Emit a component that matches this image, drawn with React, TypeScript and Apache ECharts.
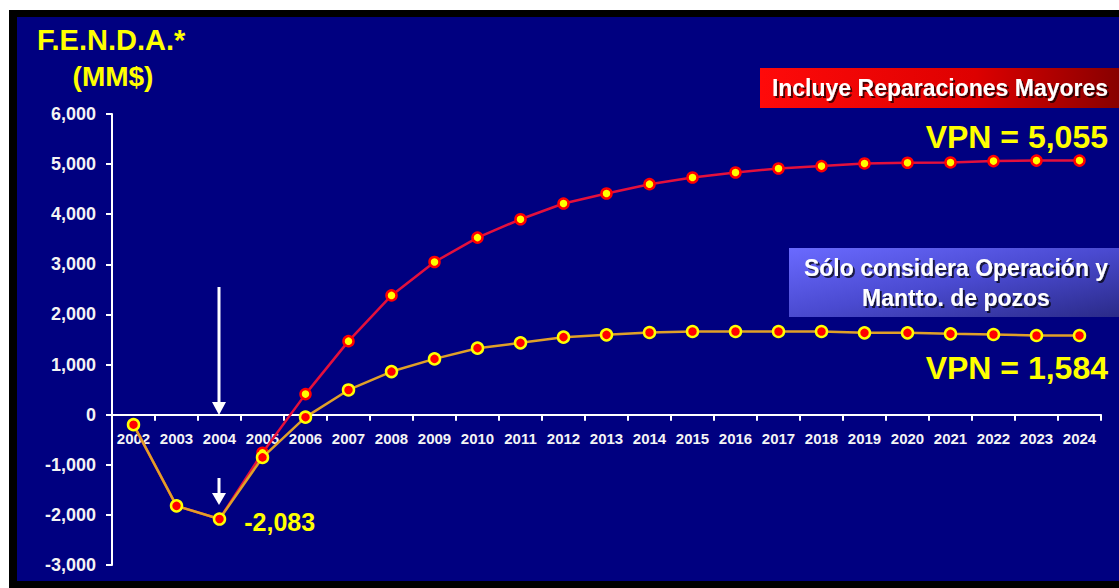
import React, { useEffect, useRef } from "react";
import * as echarts from "echarts";

const years = [
  "2002", "2003", "2004", "2005", "2006", "2007", "2008", "2009", "2010", "2011", "2012",
  "2013", "2014", "2015", "2016", "2017", "2018", "2019", "2020", "2021", "2022", "2023", "2024",
];
const incluyeReparaciones = [
  -200, -1820, -2083, -760, 410, 1467, 2380, 3047, 3533, 3900, 4213,
  4413, 4600, 4733, 4832, 4913, 4960, 5013, 5027, 5033, 5060, 5070, 5070,
];
const soloOperacion = [
  -200, -1820, -2083, -853, -50, 493, 860, 1113, 1327, 1433, 1547,
  1593, 1640, 1660, 1660, 1660, 1660, 1633, 1633, 1613, 1600, 1580, 1580,
];
const yMin = -3000;
const yMax = 6000;
const yStep = 1000;
const minIndex = 2; // 2004, -2,083

const FONT = "'Liberation Sans', Arial, sans-serif";
const GRID_TOP = 114;
const GRID_BOTTOM = 23;
const CHART_H = 588;

export default function App() {
  const ref = useRef<HTMLDivElement>(null);
  useEffect(() => {
    if (!ref.current) return;
    const chart = echarts.init(ref.current, null, { renderer: "svg" });
    const plotH = CHART_H - GRID_TOP - GRID_BOTTOM;
    // distance from the bottom of the grid up to the value 0
    const zeroOffset = (plotH * (0 - yMin)) / (yMax - yMin);
    const soloData = soloOperacion.map((v, i) =>
      i === minIndex
        ? {
            value: v,
            label: {
              show: true,
              position: "right",
              distance: 18,
              offset: [0, 3],
              formatter: (p: any) => Number(p.value).toLocaleString("en-US"),
              color: "#ffff00",
              fontFamily: FONT,
              fontWeight: "bold",
              fontSize: 25,
            },
          }
        : v
    );
    chart.setOption({
      animation: false,
      backgroundColor: "transparent",
      grid: {
        left: 112,
        right: 18,
        top: GRID_TOP,
        bottom: GRID_BOTTOM,
        containLabel: false,
        outerBoundsMode: "none",
      },
      xAxis: {
        type: "category",
        data: years,
        boundaryGap: true,
        position: "bottom",
        offset: -zeroOffset,
        axisLine: { onZero: false, lineStyle: { color: "#ffffff", width: 2 } },
        axisTick: { show: true, length: 6, lineStyle: { color: "#ffffff", width: 2 } },
        axisLabel: {
          interval: 0,
          margin: 16,
          color: "#f4f4f4",
          fontFamily: FONT,
          fontWeight: "bold",
          fontSize: 15,
          hideOverlap: false,
        },
        splitLine: { show: false },
      },
      yAxis: {
        type: "value",
        min: yMin,
        max: yMax,
        interval: yStep,
        axisLine: { show: true, onZero: false, lineStyle: { color: "#ffffff", width: 2 } },
        axisTick: { show: true, length: 6, lineStyle: { color: "#ffffff", width: 2 } },
        axisLabel: {
          margin: 16,
          color: "#f4f4f4",
          fontFamily: FONT,
          fontWeight: "bold",
          fontSize: 18,
          formatter: (v: number) => v.toLocaleString("en-US"),
        },
        splitLine: { show: false },
      },
      series: [
        {
          name: "Incluye Reparaciones Mayores",
          type: "line",
          data: incluyeReparaciones,
          symbol: "circle",
          symbolSize: 10,
          lineStyle: { color: "#e4103c", width: 2.5 },
          itemStyle: { color: "#ffff00", borderColor: "#ff0000", borderWidth: 2.5 },
          z: 2,
        },
        {
          name: "Sólo considera Operación y Mantto. de pozos",
          type: "line",
          data: soloData,
          symbol: "circle",
          symbolSize: 11,
          lineStyle: { color: "#e0a028", width: 2.5 },
          itemStyle: { color: "#ff0000", borderColor: "#ffff00", borderWidth: 2.5 },
          z: 3,
        },
      ],
      graphic: [
        {
          type: "text",
          x: 37,
          y: 40,
          style: {
            text: "F.E.N.D.A.*",
            fill: "#ffff00",
            font: `bold 29px ${FONT}`,
            textVerticalAlign: "middle",
            textShadowColor: "rgba(0,0,0,0.5)",
            textShadowOffsetX: 1,
            textShadowOffsetY: 1,
          },
        },
        {
          type: "text",
          x: 113,
          y: 76,
          style: {
            text: "(MM$)",
            fill: "#ffff00",
            font: `bold 28px ${FONT}`,
            textAlign: "center",
            textVerticalAlign: "middle",
            textShadowColor: "rgba(0,0,0,0.5)",
            textShadowOffsetX: 1,
            textShadowOffsetY: 1,
          },
        },
        {
          type: "rect",
          shape: { x: 760, y: 68, width: 359, height: 40 },
          style: {
            fill: new echarts.graphic.LinearGradient(0, 0, 1, 0, [
              { offset: 0, color: "#ff0a0a" },
              { offset: 0.6, color: "#dd0000" },
              { offset: 1, color: "#880000" },
            ]),
          },
        },
        {
          type: "text",
          x: 940,
          y: 88,
          style: {
            text: "Incluye Reparaciones Mayores",
            fill: "#ffffff",
            font: `bold 23px ${FONT}`,
            textAlign: "center",
            textVerticalAlign: "middle",
            textShadowColor: "rgba(0,0,0,0.7)",
            textShadowOffsetX: 2,
            textShadowOffsetY: 2,
            textShadowBlur: 1,
          },
        },
        {
          type: "text",
          x: 1108,
          y: 137,
          style: {
            text: "VPN = 5,055",
            fill: "#ffff00",
            font: `bold 32px ${FONT}`,
            textAlign: "right",
            textVerticalAlign: "middle",
            textShadowColor: "rgba(0,0,0,0.5)",
            textShadowOffsetX: 1,
            textShadowOffsetY: 1,
          },
        },
        {
          type: "rect",
          shape: { x: 789, y: 248, width: 330, height: 69 },
          style: {
            fill: new echarts.graphic.LinearGradient(0, 0, 1, 1, [
              { offset: 0, color: "#6a6aff" },
              { offset: 0.5, color: "#4a4ad0" },
              { offset: 1, color: "#2a2a88" },
            ]),
          },
        },
        {
          type: "text",
          x: 956,
          y: 268,
          style: {
            text: "Sólo considera Operación y",
            fill: "#ffffff",
            font: `bold 23px ${FONT}`,
            textAlign: "center",
            textVerticalAlign: "middle",
            textShadowColor: "rgba(0,0,0,0.7)",
            textShadowOffsetX: 2,
            textShadowOffsetY: 2,
            textShadowBlur: 1,
          },
        },
        {
          type: "text",
          x: 956,
          y: 298,
          style: {
            text: "Mantto. de pozos",
            fill: "#ffffff",
            font: `bold 23px ${FONT}`,
            textAlign: "center",
            textVerticalAlign: "middle",
            textShadowColor: "rgba(0,0,0,0.7)",
            textShadowOffsetX: 2,
            textShadowOffsetY: 2,
            textShadowBlur: 1,
          },
        },
        {
          type: "text",
          x: 1108,
          y: 368,
          style: {
            text: "VPN = 1,584",
            fill: "#ffff00",
            font: `bold 32px ${FONT}`,
            textAlign: "right",
            textVerticalAlign: "middle",
            textShadowColor: "rgba(0,0,0,0.5)",
            textShadowOffsetX: 1,
            textShadowOffsetY: 1,
          },
        },
        {
          type: "line",
          shape: { x1: 219, y1: 287, x2: 219, y2: 404 },
          style: { stroke: "#ffffff", lineWidth: 3 },
        },
        {
          type: "polygon",
          shape: { points: [[212, 402], [226, 402], [219, 415]] },
          style: { fill: "#ffffff" },
        },
        {
          type: "line",
          shape: { x1: 219, y1: 478, x2: 219, y2: 495 },
          style: { stroke: "#ffffff", lineWidth: 3 },
        },
        {
          type: "polygon",
          shape: { points: [[212, 493], [226, 493], [219, 505]] },
          style: { fill: "#ffffff" },
        },
      ],
    });
    return () => chart.dispose();
  }, []);

  return (
    <div
      style={{
        position: "absolute",
        left: 0,
        top: 0,
        width: 1119,
        height: 588,
        background: "#ffffff",
        overflow: "hidden",
      }}
    >
      <div style={{ position: "absolute", left: 9, top: 10, right: 0, bottom: 0, background: "#000000" }} />
      <div style={{ position: "absolute", left: 17, top: 17, right: 0, bottom: 7, background: "#000080" }} />
      <div ref={ref} style={{ position: "absolute", left: 0, top: 0, width: 1119, height: 588 }} />
    </div>
  );
}
